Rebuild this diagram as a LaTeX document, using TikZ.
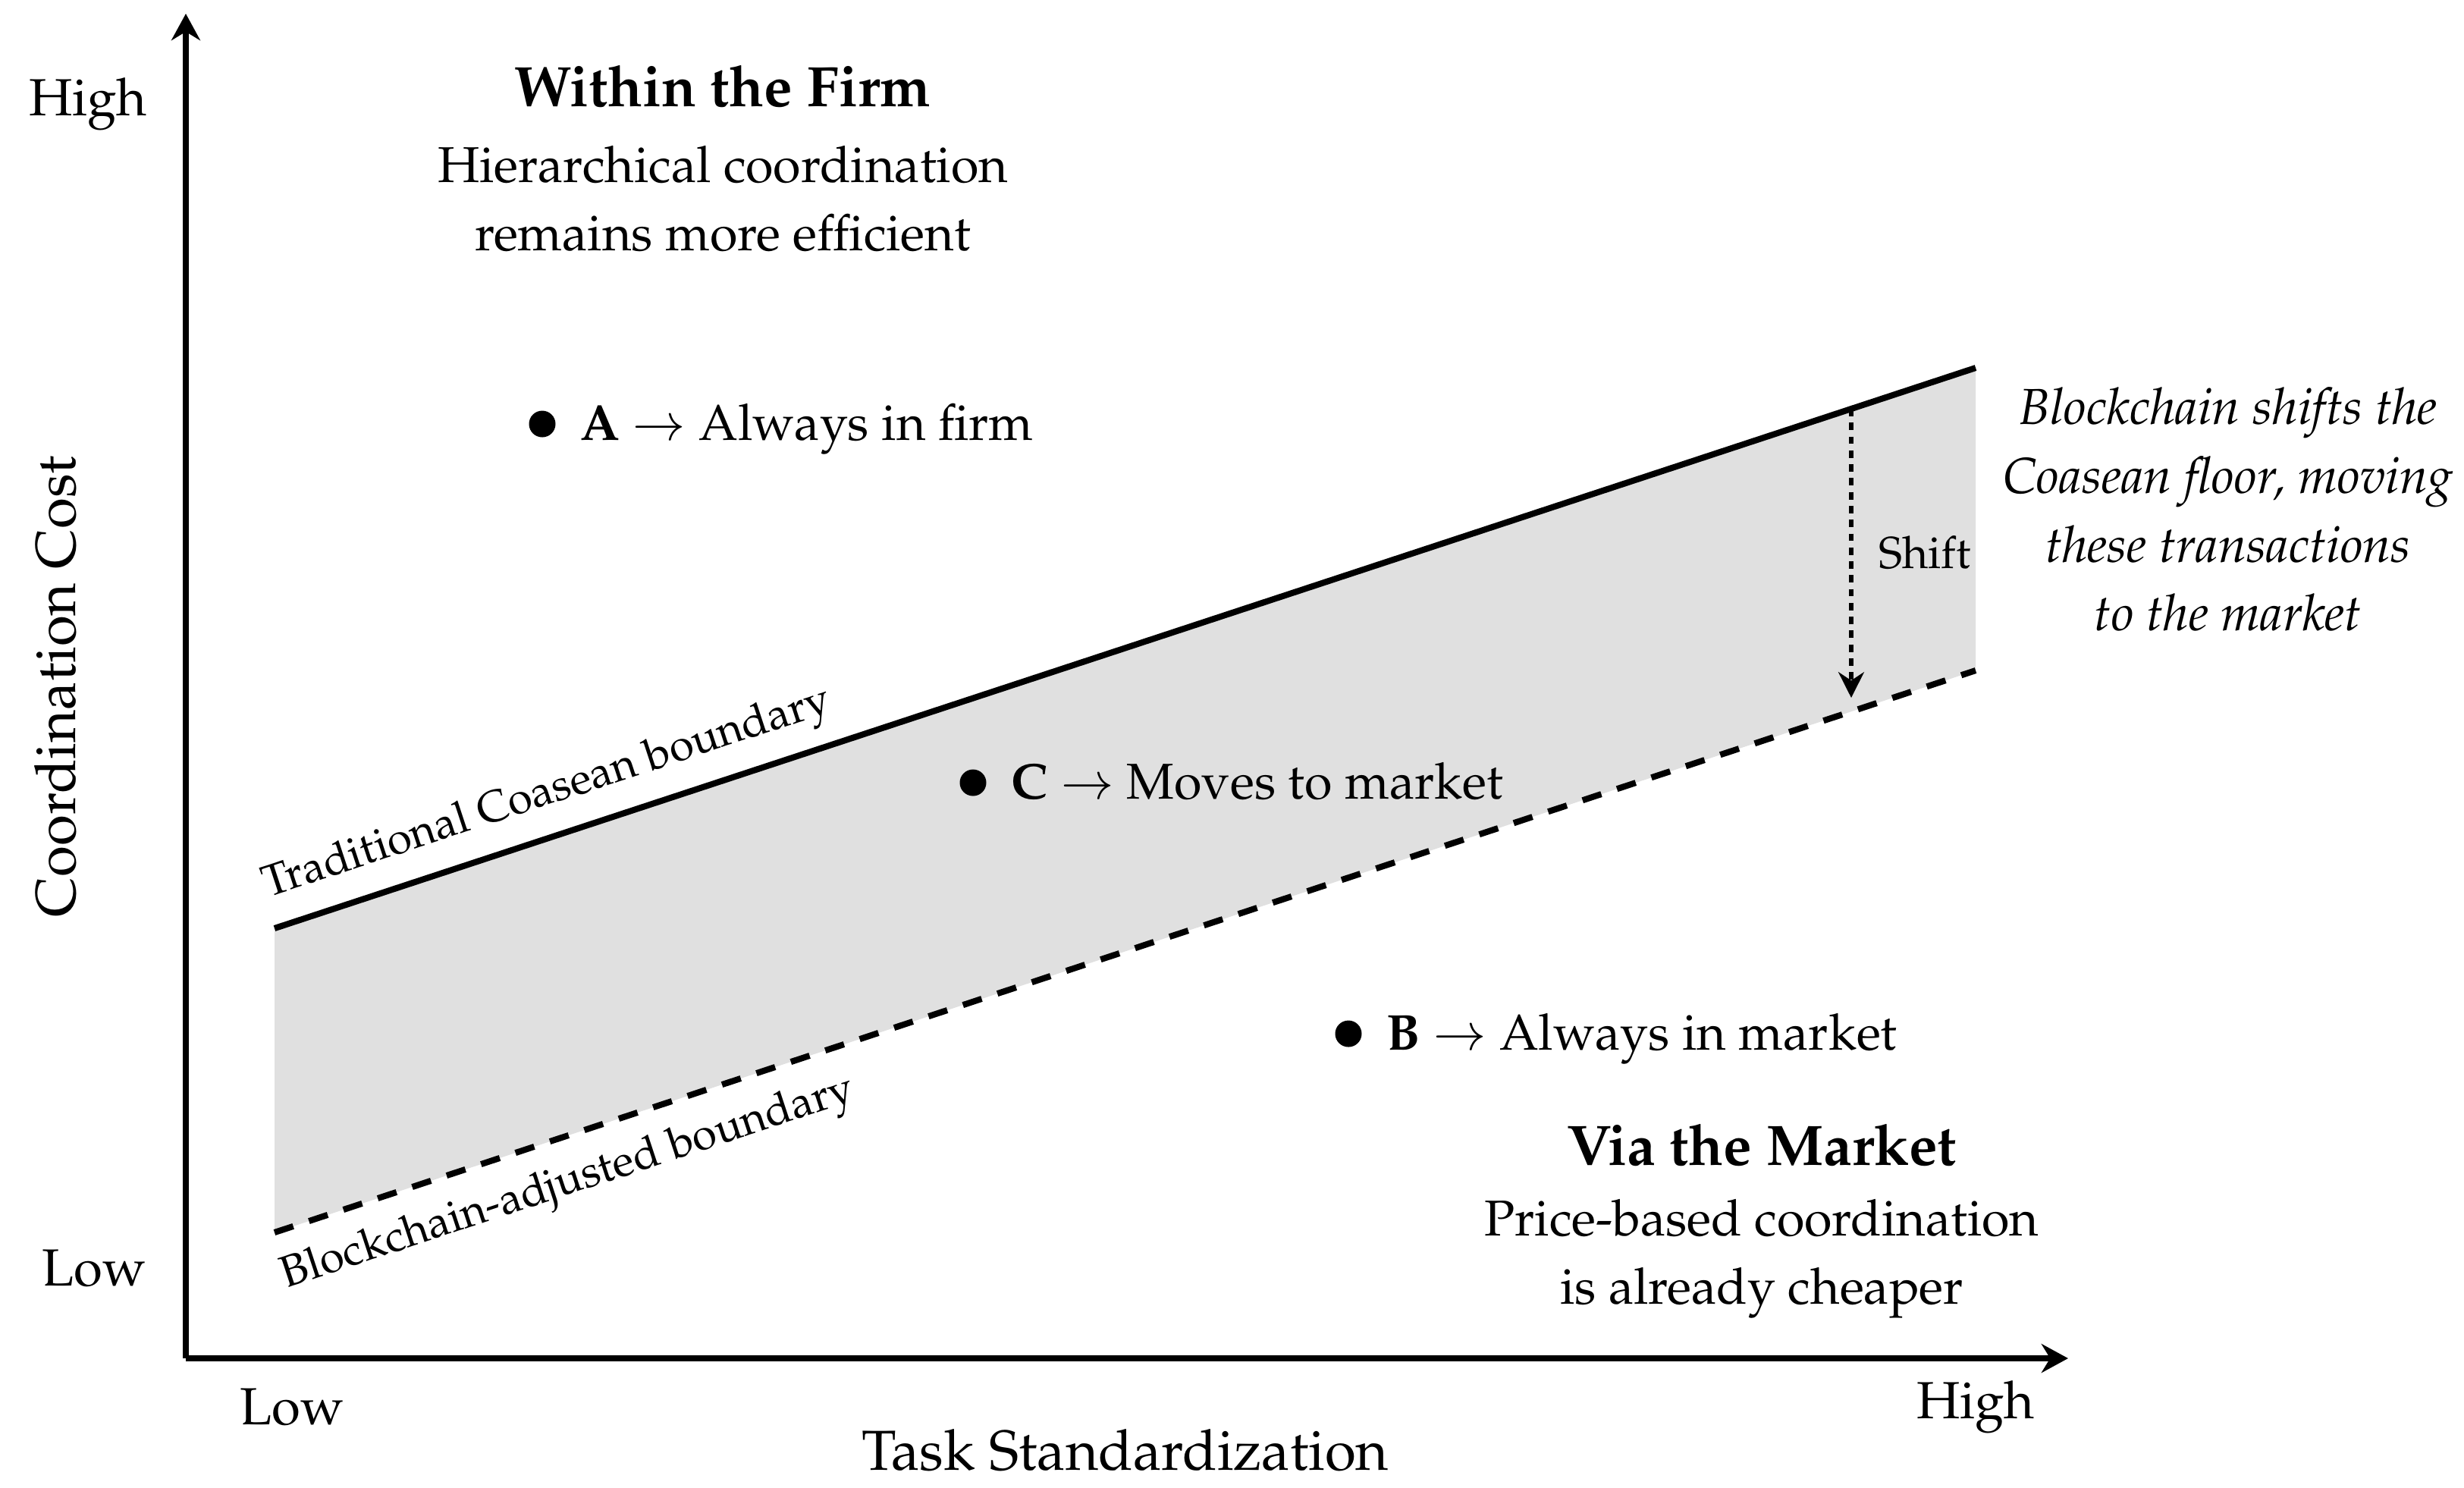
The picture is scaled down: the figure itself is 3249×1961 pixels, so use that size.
\documentclass[tikz,border=0pt]{standalone}
\usepackage[T1]{fontenc}
\usepackage{mathpazo}
\usetikzlibrary{arrows.meta}
\begin{document}
\begin{tikzpicture}[x=0.05mm,y=-0.05mm,
  axisline/.style={line width=1.2pt,-{Stealth[length=5pt,width=5.4pt]}},
  boundary/.style={line width=1.15pt},
  dashedboundary/.style={line width=1.15pt,dash pattern=on 3.7pt off 3.1pt},
  shiftarrow/.style={line width=0.85pt,dash pattern=on 1.4pt off 1.2pt,-{Stealth[length=4.8pt,width=4.8pt]}},
  band/.style={fill=black!12},
  dot/.style={circle,fill=black,inner sep=0pt,minimum size=1.75mm},
  txt/.style={font=\fontsize{9.45}{12.8}\selectfont,align=center,inner sep=0pt},
  ttl/.style={font=\fontsize{10.7}{13}\selectfont\bfseries,inner sep=0pt},
  axtitle/.style={font=\fontsize{10.6}{13}\selectfont,inner sep=0pt},
  tick/.style={font=\fontsize{9.8}{12}\selectfont,inner sep=0pt},
  note/.style={font=\fontsize{9.5}{12.9}\selectfont\itshape,align=center,inner sep=0pt},
  small/.style={font=\fontsize{8.4}{10}\selectfont,inner sep=0pt},
  bndlabel/.style={font=\fontsize{8.3}{10}\selectfont,sloped}]
\useasboundingbox (0,0) rectangle (3249,1961);

% coordinates
\coordinate (O) at (245,1791);
\coordinate (Ytop) at (245,18);
\coordinate (Xend) at (2727,1791);
\coordinate (L1) at (362,1224);
\coordinate (R1) at (2605,485);
\coordinate (L2) at (362,1625);
\coordinate (R2) at (2605,884);
\coordinate (S1) at (2441,539);
\coordinate (S2) at (2441,920);

% band
\fill[band] (L1) -- (R1) -- (R2) -- (L2) -- cycle;

% boundaries
\draw[boundary] (L1) -- node[bndlabel,above,pos=0.168,inner sep=3pt] (tlab) {Traditional Coasean boundary} (R1);
\draw[dashedboundary] (L2) -- node[bndlabel,below,pos=0.164,inner sep=4pt] (blab) {Blockchain-adjusted boundary} (R2);

% shift
\draw[shiftarrow] (S1) -- (S2);
\node[small] (shiftlbl) at (2538,729) {Shift};

% axes
\draw[axisline] (O) -- (Ytop);
\draw[axisline] (O) -- (Xend);

% axis titles and ticks
\node[axtitle,rotate=90] (ytitle) at (73,905) {Coordination Cost};
\node[axtitle] (xtitle) at (1484,1912) {Task Standardization};
\node[tick] (yhigh) at (116,137) {High};
\node[tick] (ylow) at (124,1672) {Low};
\node[tick] (xlow) at (385,1855) {Low};
\node[tick] (xhigh) at (2605,1855) {High};

% regions
\node[ttl] (firm) at (953,114) {Within the Firm};
\node[txt] (firmtxt) at (953,262) {Hierarchical coordination\\remains more efficient};
\node[ttl] (market) at (2323,1510) {Via the Market};
\node[txt] (markettxt) at (2323,1660) {Price-based coordination\\is already cheaper};
\node[note] (blocknote) at (2938,672) {Blockchain shifts the\\Coasean floor, moving\\these transactions\\to the market};

% points
\node[dot] (A) at (715,559) {};
\node[txt,anchor=base west] (Alab) at ([xshift=7pt,yshift=-3pt]A.center) {\textbf{A} $\rightarrow$ Always in firm};
\node[dot] (C) at (1283,1032) {};
\node[txt,anchor=base west] (Clab) at ([xshift=7pt,yshift=-3pt]C.center) {\textbf{C} $\rightarrow$ Moves to market};
\node[dot] (B) at (1778,1363) {};
\node[txt,anchor=base west] (Blab) at ([xshift=7pt,yshift=-3pt]B.center) {\textbf{B} $\rightarrow$ Always in market};
\end{tikzpicture}
\end{document}
